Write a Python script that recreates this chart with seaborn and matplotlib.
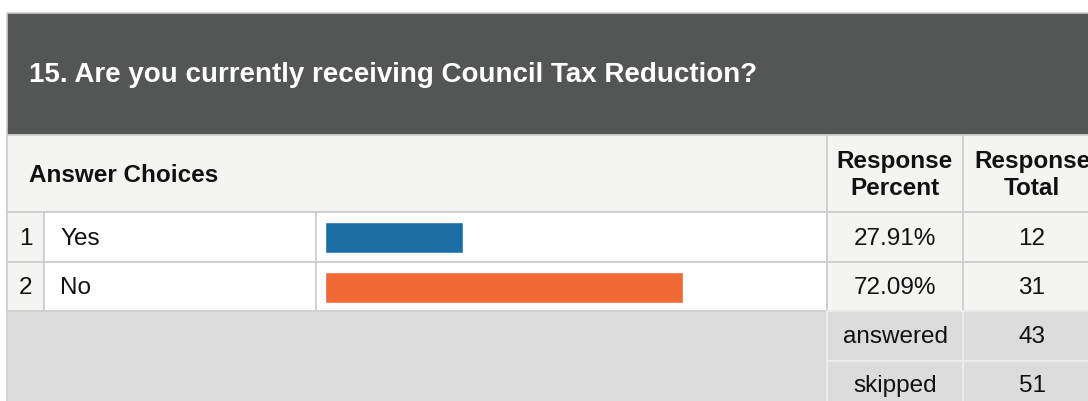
import matplotlib
matplotlib.use('Agg')
import matplotlib.pyplot as plt
from matplotlib.patches import Rectangle
import seaborn as sns

# survey data
question = '15. Are you currently receiving Council Tax Reduction?'
choices = ['Yes', 'No']
percents = [27.91, 72.09]
totals = [12, 31]
answered = 43
skipped = 51

sns.set_theme(style='white')
plt.rcParams['font.family'] = ['Liberation Sans', 'DejaVu Sans']
plt.rcParams['text.color'] = '#111111'

fig = plt.figure(figsize=(10.88, 4.01), dpi=100)
ax = fig.add_axes([0, 0, 1, 1])
ax.set_xlim(0, 1088)
ax.set_ylim(401, 0)
ax.axis('off')

line = '#cccccc'
fs = 17.5

def cell(x0, y0, x1, y1, fc, ec=line, lw=1.2):
    ax.add_patch(Rectangle((x0, y0), x1 - x0, y1 - y0, facecolor=fc, edgecolor=ec, linewidth=lw))

# title band
cell(7, 13, 1100, 135, '#545655')
ax.text(29, 75, question, color='white', fontsize=20, fontweight='bold', va='center', ha='left')

# column headers
cell(7, 135, 827, 212, '#f4f4f2')
cell(827, 135, 963, 212, '#f4f4f2')
cell(963, 135, 1100, 212, '#f4f4f2')
ax.text(29, 175, 'Answer Choices', fontsize=fs, fontweight='bold', va='center')
ax.text(895, 175, 'Response\nPercent', fontsize=fs, fontweight='bold', va='center', ha='center', linespacing=1.18)
ax.text(1032, 175, 'Response\nTotal', fontsize=fs, fontweight='bold', va='center', ha='center', linespacing=1.18)

# answer rows
rows = [(212, 262), (262, 311)]
for i, (y0, y1) in enumerate(rows):
    cell(7, y0, 44, y1, '#f4f4f2')
    cell(44, y0, 316, y1, 'white')
    cell(316, y0, 827, y1, 'white')
    cell(827, y0, 963, y1, '#f4f4f2')
    cell(963, y0, 1100, y1, '#f4f4f2')
    yc = (y0 + y1) / 2 + 2
    ax.text(26, yc, str(i + 1), fontsize=fs, va='center', ha='center')
    ax.text(60, yc, choices[i], fontsize=fs, va='center')
    ax.text(895, yc, f'{percents[i]:.2f}%', fontsize=fs, va='center', ha='center')
    ax.text(1032, yc, str(totals[i]), fontsize=fs, va='center', ha='center')

# footer
cell(7, 311, 827, 410, '#dcdcdc', ec='#d0d0d0')
for (y0, y1), yc, lab, val in [((311, 361), 337, 'answered', answered), ((361, 410), 386, 'skipped', skipped)]:
    cell(827, y0, 963, y1, '#dcdcdc', ec='#eeeeee')
    cell(963, y0, 1100, y1, '#dcdcdc', ec='#eeeeee')
    ax.text(895, yc, lab, fontsize=fs, va='center', ha='center')
    ax.text(1032, yc, str(val), fontsize=fs, va='center', ha='center')

# bars
bax = fig.add_axes([325 / 1088, (401 - 312) / 401, 496 / 1088, 100 / 401])
sns.barplot(x=percents, y=choices, hue=choices, palette=['#1c6ea4', '#f06934'],
            orient='h', width=0.62, ax=bax, legend=False, saturation=1)
bax.set_xlim(0, 100)
bax.set_ylim(1.5, -0.5)
bax.axis('off')

fig.savefig('out.png', dpi=100)
